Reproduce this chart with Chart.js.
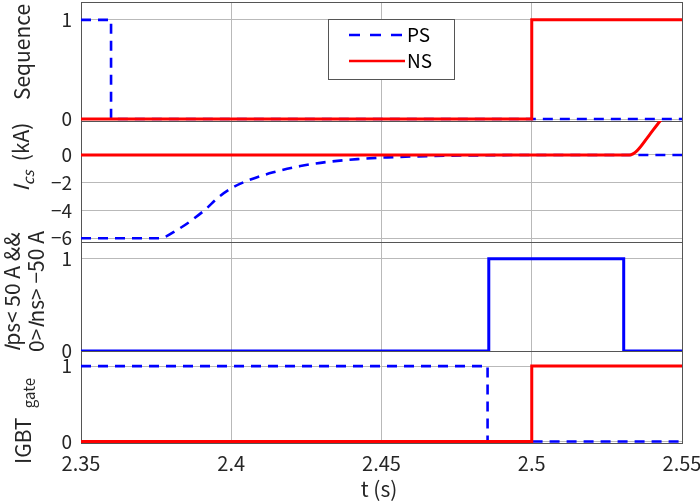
<!DOCTYPE html>
<html>
<head>
<meta charset="utf-8">
<script src="https://cdn.jsdelivr.net/npm/chart.js@4.4.0/dist/chart.umd.min.js"></script>
<style>
  html, body { margin: 0; padding: 0; background: #fff; }
  #wrap { position: relative; width: 700px; height: 501px; overflow: hidden; }
  #wrap canvas { position: absolute; left: 0; top: 0; }
</style>
</head>
<body>
<div id="wrap">
  <canvas id="seqChart" width="700" height="501"></canvas>
  <canvas id="icsChart" width="700" height="501"></canvas>
  <canvas id="condChart" width="700" height="501"></canvas>
  <canvas id="gateChart" width="700" height="501"></canvas>
</div>
<script>
// time axis (s)
const xTicks = [2.35, 2.4, 2.45, 2.5, 2.55];
const xTickLabels = ["2.35", "2.4", "2.45", "2.5", "2.55"];

// Sequence
const seqPsT = [2.35, 2.36, 2.36, 2.55];
const seqPsV = [1, 1, 0, 0];
const seqNsT = [2.35, 2.5, 2.5, 2.55];
const seqNsV = [0, 0, 1, 1];
const seqTicks = [0, 1];

// I_cs (kA)
const icsPsT = [2.35, 2.376, 2.382, 2.391, 2.396, 2.4, 2.406, 2.414, 2.423, 2.432, 2.442, 2.452, 2.465, 2.48, 2.5, 2.55];
const icsPsV = [-6, -6, -5.4, -4.0, -3.0, -2.4, -1.8, -1.25, -0.8, -0.5, -0.3, -0.17, -0.08, -0.03, 0, 0];
const icsNsT = [2.35, 2.5325, 2.535, 2.539, 2.5427, 2.546];
const icsNsV = [0, 0, 0.3, 1.4, 2.45, 3.3];
const icsTicks = [-6, -4, -2, 0];

// Ips < 50 A && 0 > Ins > -50 A
const condT = [2.35, 2.4857, 2.4857, 2.5306, 2.5306, 2.55];
const condV = [0, 0, 1, 1, 0, 0];
const condTicks = [0, 1];

// IGBT gate
const gatePsT = [2.35, 2.4853, 2.4853, 2.55];
const gatePsV = [1, 1, 0, 0];
const gateNsT = [2.35, 2.5, 2.5, 2.55];
const gateNsV = [0, 0, 1, 1];
const gateTicks = [0, 1];

const FONT = "'Noto Sans CJK JP', 'Liberation Sans', sans-serif";
const TXT = "#262626";
const GRID = "#b9b9b9";
const BLUE = "#0000ff";
const RED = "#ff0000";

// extra drawing per canvas (labels, legend)
const extras = {};

function pts(t, v) {
  return t.map((x, i) => ({ x: x, y: v[i] }));
}

function psLine(t, v) {
  return { label: "PS", data: pts(t, v), borderColor: BLUE, borderWidth: 2.6, borderDash: [10, 7], order: 1 };
}
function nsLine(t, v) {
  return { label: "NS", data: pts(t, v), borderColor: RED, borderWidth: 3, order: 0 };
}

function minus(v) {
  return v < 0 ? "\u2212" + Math.abs(v) : String(v);
}

// rotated label made of runs (text, font, shift)
function drawRotated(ctx, runs, bx, cy, align) {
  ctx.save();
  ctx.translate(bx, cy);
  ctx.rotate(-Math.PI / 2);
  ctx.fillStyle = TXT;
  ctx.textBaseline = "alphabetic";
  let total = 0;
  runs.forEach((r) => { ctx.font = r.font; total += ctx.measureText(r.text).width; });
  let x = align === "start" ? 0 : -total / 2;
  runs.forEach((r) => {
    ctx.font = r.font;
    ctx.fillText(r.text, x, r.dy || 0);
    x += ctx.measureText(r.text).width;
  });
  ctx.restore();
}

const boxPlugin = {
  id: "box",
  beforeDatasetsDraw(chart) {
    const a = chart.chartArea;
    const ctx = chart.ctx;
    ctx.save();
    ctx.strokeStyle = "#555";
    ctx.lineWidth = 1;
    ctx.strokeRect(Math.round(a.left) + 0.5, Math.round(a.top) + 0.5, Math.round(a.right - a.left), Math.round(a.bottom - a.top));
    ctx.restore();
  },
  afterDraw(chart) {
    const fn = extras[chart.canvas.id];
    if (fn) fn(chart.ctx);
  }
};

function makePanel(id, p) {
  const bottomPad = p.showX ? 0 : 501 - p.bottom;
  extras[id] = p.draw;
  return new Chart(document.getElementById(id), {
    type: "line",
    data: { datasets: p.datasets },
    options: {
      responsive: false,
      animation: false,
      layout: { padding: { left: 0, right: 18, top: p.top, bottom: bottomPad } },
      elements: { point: { radius: 0 }, line: { tension: 0, cubicInterpolationMode: p.smooth ? "monotone" : "default" } },
      plugins: { legend: { display: false }, tooltip: { enabled: false } },
      scales: {
        x: {
          type: "linear",
          min: 2.35,
          max: 2.55,
          afterBuildTicks: (s) => { s.ticks = xTicks.map((v) => ({ value: v })); },
          afterFit: (s) => { s.height = p.showX ? 501 - p.bottom : 0; s.paddingLeft = 0; s.paddingRight = 0; },
          grid: { color: GRID, drawTicks: false },
          border: { display: false },
          ticks: {
            display: !!p.showX,
            padding: 8,
            color: TXT,
            font: { family: FONT, size: 20 },
            callback: (v, i) => xTickLabels[i]
          }
        },
        y: {
          min: p.yMin,
          max: p.yMax,
          afterBuildTicks: (s) => { s.ticks = p.yTicks.map((v) => ({ value: v })); },
          afterFit: (s) => { s.width = 81; s.paddingTop = 0; s.paddingBottom = 0; },
          grid: { color: GRID, drawTicks: false },
          border: { display: false },
          ticks: {
            padding: 9,
            color: TXT,
            font: { family: FONT, size: 19 },
            callback: (v) => minus(v)
          }
        }
      }
    },
    plugins: [boxPlugin]
  });
}

const F21 = "21px " + FONT;
const F21I = "italic 21px " + FONT;
const F15 = "15px " + FONT;
const F15I = "italic 15px " + FONT;

makePanel("seqChart", {
  top: 2, bottom: 121, yMin: -0.02, yMax: 1.18, yTicks: seqTicks,
  datasets: [psLine(seqPsT, seqPsV), nsLine(seqNsT, seqNsV)],
  draw: (ctx) => {
    drawRotated(ctx, [{ text: "Sequence", font: F21 }], 30, 52, "center");
    // legend
    ctx.save();
    ctx.fillStyle = "#fff";
    ctx.fillRect(328.5, 19.5, 126, 60);
    ctx.strokeStyle = "#555";
    ctx.lineWidth = 1;
    ctx.strokeRect(328.5, 19.5, 126, 60);
    ctx.lineWidth = 2.6;
    ctx.strokeStyle = BLUE;
    ctx.setLineDash([11, 10]);
    ctx.beginPath(); ctx.moveTo(349, 35); ctx.lineTo(405, 35); ctx.stroke();
    ctx.setLineDash([]);
    ctx.strokeStyle = RED;
    ctx.beginPath(); ctx.moveTo(349, 61); ctx.lineTo(405, 61); ctx.stroke();
    ctx.fillStyle = "#000";
    ctx.font = "19px " + FONT;
    ctx.textBaseline = "middle";
    ctx.fillText("PS", 407, 35);
    ctx.fillText("NS", 407, 61);
    ctx.restore();
  }
});

makePanel("icsChart", {
  top: 121, bottom: 242, yMin: -6.27, yMax: 2.45, yTicks: icsTicks, smooth: true,
  datasets: [psLine(icsPsT, icsPsV), nsLine(icsNsT, icsNsV)],
  draw: (ctx) => {
    drawRotated(ctx, [
      { text: "I", font: F21I },
      { text: "cs", font: F15I, dy: 5 },
      { text: "  (kA)", font: F21 }
    ], 29, 157, "center");
  }
});

makePanel("condChart", {
  top: 242, bottom: 351, yMin: 0, yMax: 1.18, yTicks: condTicks,
  datasets: [{ label: "cond", data: pts(condT, condV), borderColor: BLUE, borderWidth: 3, clip: 0 }],
  draw: (ctx) => {
    drawRotated(ctx, [
      { text: "I", font: F21I },
      { text: "ps< 50 A &&", font: F21 }
    ], 20, 352, "start");
    drawRotated(ctx, [
      { text: "0>", font: F21 },
      { text: "I", font: F21I },
      { text: "ns> \u221250 A", font: F21 }
    ], 44, 352, "start");
  }
});

makePanel("gateChart", {
  top: 351, bottom: 443, yMin: -0.02, yMax: 1.2, yTicks: gateTicks, showX: true,
  datasets: [psLine(gatePsT, gatePsV), nsLine(gateNsT, gateNsV)],
  draw: (ctx) => {
    drawRotated(ctx, [
      { text: "IGBT  ", font: F21 },
      { text: "gate", font: F15, dy: 4 }
    ], 31, 421, "center");
    ctx.save();
    ctx.fillStyle = TXT;
    ctx.font = F21;
    ctx.textAlign = "center";
    ctx.textBaseline = "middle";
    ctx.fillText("t (s)", 379, 489);
    ctx.restore();
  }
});
</script>
</body>
</html>
